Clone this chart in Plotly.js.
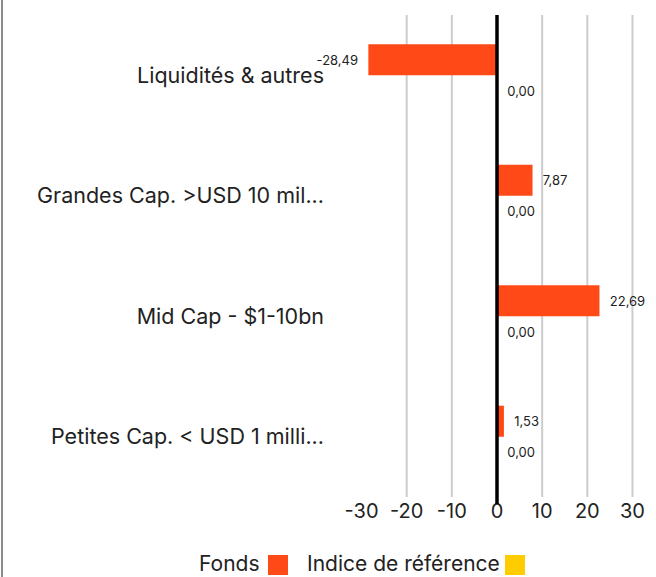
<!DOCTYPE html>
<html>
<head>
<meta charset="utf-8">
<script src="https://cdn.plot.ly/plotly-3.0.1.min.js"></script>
<style>
html,body{margin:0;padding:0;background:#fff;}
#wrap{position:relative;width:656px;height:577px;}
#edge{position:absolute;left:1px;top:0;width:2px;height:577px;background:#8a8a8a;}
#chart{position:absolute;left:0;top:0;width:656px;height:577px;}
</style>
</head>
<body>
<div id="wrap"><div id="chart"></div><div id="edge"></div></div>
<script>
const categories = ["Liquidités & autres", "Grandes Cap. >USD 10 mil...", "Mid Cap - $1-10bn", "Petites Cap. < USD 1 milli..."];
const fonds = [-28.49, 7.87, 22.69, 1.53];
const indice = [0.00, 0.00, 0.00, 0.00];
const seriesNames = ["Fonds", "Indice de référence"];
const tickValues = [-30, -20, -10, 0, 10, 20, 30];

const W = 656, H = 577;
const M = {l: 357, r: 19, t: 15, b: 80};
const pw = W - M.l - M.r, ph = H - M.t - M.b;
const px = x => (x - M.l) / pw;
const py = y => (H - M.b - y) / ph;

const font = "Inter, 'Noto Sans', sans-serif";
const orange = "#ff4a17", yellow = "#ffcc00";
const pad = "\u00a0\u00a0";
const tmpl = vals => vals.map(v => v < 0 ? "%{x:.2f}" + pad : pad + "%{x:.2f}");

const traces = [
  {type: "bar", orientation: "h", name: seriesNames[0], y: categories, x: fonds,
   marker: {color: orange}, texttemplate: tmpl(fonds), textposition: "outside",
   textfont: {size: 13, color: "#222", family: font}, cliponaxis: false, showlegend: false},
  {type: "bar", orientation: "h", name: seriesNames[1], y: categories, x: indice,
   marker: {color: yellow}, texttemplate: tmpl(indice), textposition: "outside",
   textfont: {size: 13, color: "#222", family: font}, cliponaxis: false, showlegend: false}
];

const shapes = tickValues.filter(v => v !== 0 && v !== -30).map(v => ({
  type: "line", xref: "x", yref: "paper", x0: v, x1: v, y0: 0, y1: 1,
  line: {color: "#cccccc", width: 2}, layer: "below"
}));
shapes.push({type: "line", xref: "x", yref: "paper", x0: 0, x1: 0, y0: py(504), y1: 1,
  line: {color: "#000", width: 3.5}, layer: "above"});
shapes.push({type: "rect", xref: "paper", yref: "paper", x0: px(268), x1: px(288), y0: py(575), y1: py(555),
  fillcolor: orange, line: {width: 0}});
shapes.push({type: "rect", xref: "paper", yref: "paper", x0: px(505), x1: px(525), y0: py(575), y1: py(555),
  fillcolor: yellow, line: {width: 0}});

const annotations = [
  {xref: "paper", yref: "paper", x: px(262), y: py(563), xanchor: "right", yanchor: "middle",
   text: seriesNames[0], showarrow: false, font: {size: 21, color: "#222", family: font}},
  {xref: "paper", yref: "paper", x: px(305), y: py(563), xanchor: "left", yanchor: "middle",
   text: seriesNames[1], showarrow: false, font: {size: 21, color: "#222", family: font}}
];

const layout = {
  width: W, height: H,
  margin: M,
  paper_bgcolor: "#fff", plot_bgcolor: "#fff",
  separators: ",.",
  barmode: "group", bargap: 0.485, bargroupgap: 0,
  font: {family: font, color: "#222"},
  xaxis: {range: [-31, 31], tickvals: tickValues, ticktext: tickValues.map(String),
    showgrid: false, zeroline: false, showline: false, ticks: "",
    tickfont: {size: 20, color: "#222", family: font}, fixedrange: true},
  yaxis: {type: "category", autorange: "reversed", showgrid: false, zeroline: false, showline: false,
    ticks: "", ticklabelstandoff: 32, tickfont: {size: 21.5, color: "#222", family: font}, fixedrange: true},
  shapes: shapes, annotations: annotations, showlegend: false
};

Plotly.newPlot("chart", traces, layout, {displayModeBar: false, staticPlot: true});
</script>
</body>
</html>
